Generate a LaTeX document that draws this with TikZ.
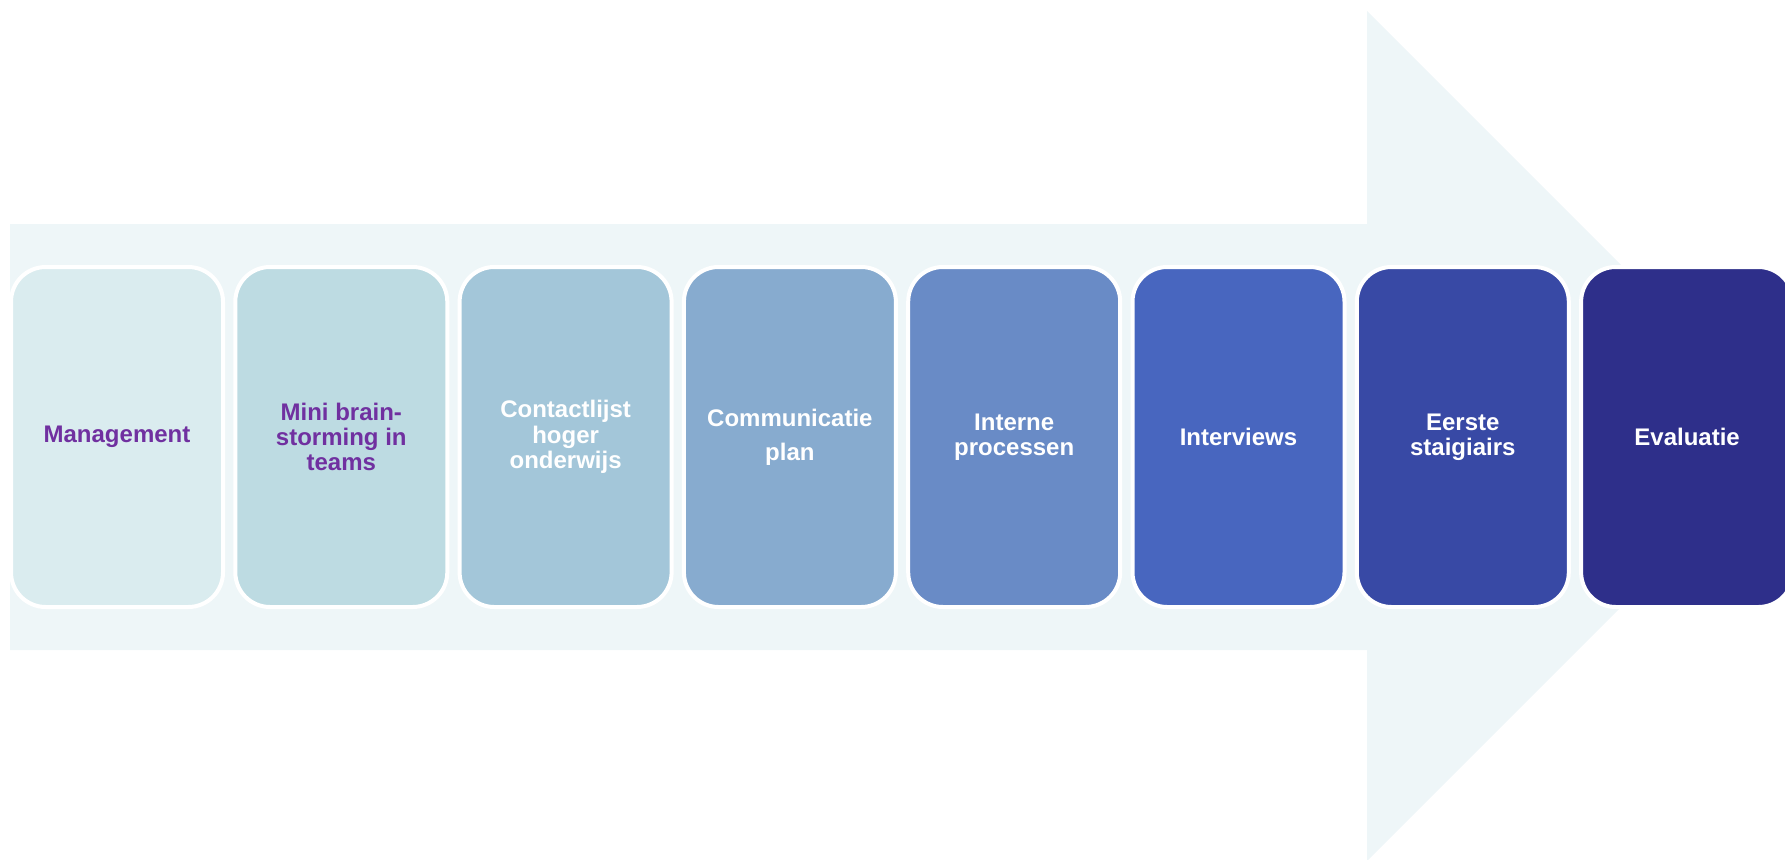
\documentclass[tikz,border=0pt]{standalone}
\usepackage{fontspec}
\setmainfont{Liberation Sans}
\definecolor{pijl}{HTML}{EEF6F8}
\definecolor{paars}{HTML}{7030A0}
\definecolor{stapA}{HTML}{DAECEF}
\definecolor{stapB}{HTML}{BDDBE2}
\definecolor{stapC}{HTML}{A3C6D9}
\definecolor{stapD}{HTML}{87ABCF}
\definecolor{stapE}{HTML}{698BC6}
\definecolor{stapF}{HTML}{4866BF}
\definecolor{stapG}{HTML}{3849A5}
\definecolor{stapH}{HTML}{2E2F8A}
\begin{document}
\begin{tikzpicture}[y=0.75pt, x=0.75pt, yscale=-1.000000, xscale=1.000000, inner sep=0pt, outer sep=0pt,
  stapbox/.style={draw=white, line width=3pt, rounded corners=26pt,
    minimum width=159pt, minimum height=255pt, align=center, text=white,
    font=\bfseries\fontsize{18}{19}\selectfont}]
  \useasboundingbox (0,0) rectangle (1785,860);
  % achtergrondpijl
  \path[fill=pijl] (10,224) -- (1367,224) -- (1367,11) -- (1792,436) --
    (1367,861) -- (1367,650) -- (10,650) -- cycle;
  % stappen
  \path (117.0,437) node[stapbox, fill=stapA, text=paars] (management) {Management};
  \path (341.3,437) node[stapbox, fill=stapB, text=paars] (brainstorm) {Mini brain-\\storming in\\teams};
  \path (565.6,437) node[stapbox, fill=stapC] (contactlijst) {Contactlijst\\hoger\\onderwijs};
  \path (789.9,437) node[stapbox, fill=stapD] (communicatie) {Communicatie\\[6.75pt]plan};
  \path (1014.2,437) node[stapbox, fill=stapE] (processen) {Interne\\processen};
  \path (1238.5,437) node[stapbox, fill=stapF] (interviews) {Interviews};
  \path (1462.8,437) node[stapbox, fill=stapG] (stagiairs) {Eerste\\staigiairs};
  \path (1687.1,437) node[stapbox, fill=stapH] (evaluatie) {Evaluatie};
\end{tikzpicture}
\end{document}
